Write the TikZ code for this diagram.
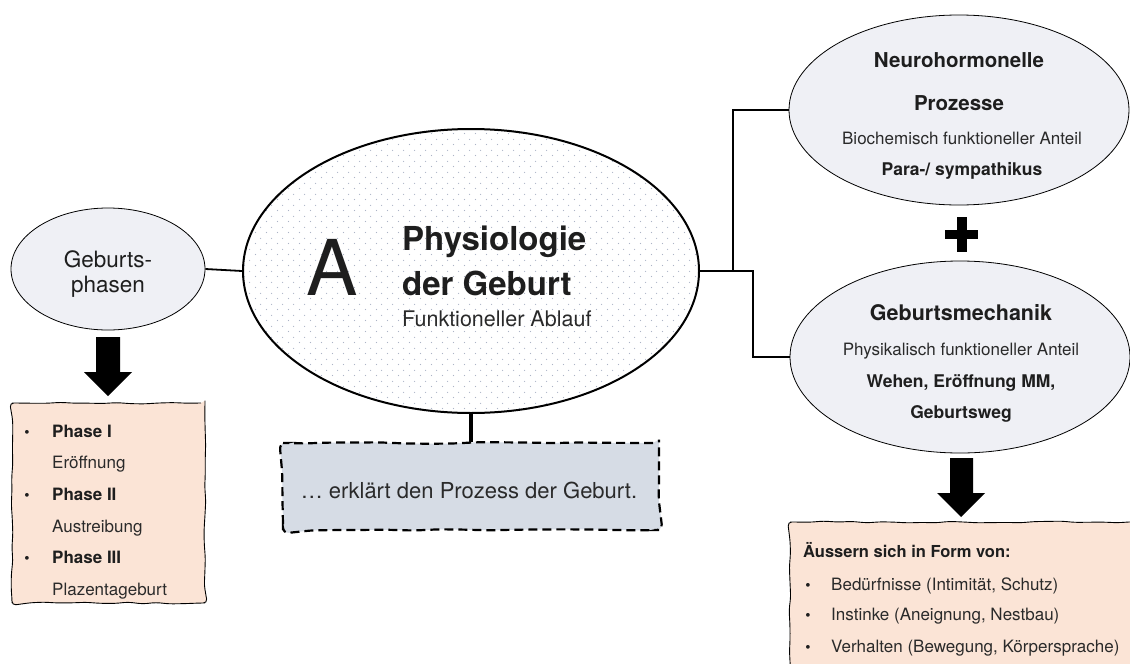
\documentclass[tikz,border=0pt]{standalone}
\usepackage{fontspec}
\setmainfont{TeX Gyre Heros}
\usetikzlibrary{shapes.geometric,patterns.meta,decorations.pathmorphing}
\definecolor{ellfill}{HTML}{EFF0F5}
\definecolor{peach}{HTML}{FBE4D6}
\definecolor{boxblue}{HTML}{D6DCE5}
\definecolor{dotc}{HTML}{ACB4C6}
\definecolor{txt}{HTML}{1E1E1E}
\definecolor{txtl}{HTML}{2A2A2A}
\tikzdeclarepattern{name=stagdots, type=uncolored,
  bounding box={(0pt,0pt) and (11pt,11pt)}, tile size={(11pt,11pt)},
  code={\fill (2.75pt,2.75pt) circle[radius=0.7pt]; \fill (8.25pt,8.25pt) circle[radius=0.7pt];}}
\begin{document}
\begin{tikzpicture}[x=1pt,y=-1pt,
  ell/.style={ellipse, draw, fill=ellfill, line width=0.8pt, inner sep=0pt},
  conn/.style={line width=1.8pt},
  lbl/.style={anchor=base, inner sep=0pt, text=txt},
  lbll/.style={anchor=base west, inner sep=0pt, text=txt},
  blockarrow/.style={fill=black},
  wavybox/.style={draw, line width=0.9pt, fill=peach, inner sep=0pt,
    decorate, decoration={random steps, segment length=14pt, amplitude=0.9pt}, rounded corners=4pt},
  dashbox/.style={draw, line width=2.2pt, dash pattern=on 9pt off 5pt, fill=boxblue, inner sep=0pt,
    decorate, decoration={random steps, segment length=25pt, amplitude=0.8pt}, rounded corners=6pt}
]
\pgfmathsetseed{7}
\useasboundingbox (0,0) rectangle (1130,664);

% main ellipse
\node[ellipse, draw, line width=2pt, inner sep=0pt, minimum width=456pt, minimum height=284pt,
  preaction={fill=white}, pattern={stagdots}, pattern color=dotc] (main) at (471,271) {};
\node[lbl, font=\fontsize{77}{77}\selectfont] (A) at (332,295) {A};
\node[lbll, font=\bfseries\fontsize{33}{33}\selectfont] (t1) at (402,250) {Physiologie};
\node[lbll, font=\bfseries\fontsize{33}{33}\selectfont] (t2) at (402,295) {der Geburt};
\node[lbll, font=\fontsize{21.5}{21.5}\selectfont, text=txtl] (t3) at (402,326) {Funktioneller Ablauf};

% Geburtsphasen
\node[ell, minimum width=194pt, minimum height=122pt] (phasen) at (108,269) {};
\node[lbl, font=\fontsize{22.5}{22.5}\selectfont] (p1) at (108,267) {Geburts-};
\node[lbl, font=\fontsize{22.5}{22.5}\selectfont] (p2) at (108,292) {phasen};
\draw[conn] (phasen.east) -- (main.west);

% left block arrow
\fill[blockarrow] (96,337) -- (120,337) -- (120,372) -- (132,372) -- (108,396) -- (84,372) -- (96,372) -- cycle;

% left list box
\node[wavybox, minimum width=193pt, minimum height=200pt] (phbox) at (108.5,503) {};
\foreach \yy/\lab/\bb in {437/Phase I/1, 468/Eröffnung/0, 500/Phase II/1, 532/Austreibung/0, 563/Phase III/1, 595/Plazentageburt/0}{
  \ifnum\bb=1
    \node[lbll, font=\bfseries\fontsize{17}{17}\selectfont] at (52,\yy) {\lab};
    \node[lbl, font=\fontsize{15}{15}\selectfont] at (27,\yy) {\textbullet};
  \else
    \node[lbll, font=\fontsize{17}{17}\selectfont, text=txtl] at (52,\yy) {\lab};
  \fi
}

% dashed box
\node[dashbox, minimum width=376pt, minimum height=87pt] (erkl) at (471,486.5) {};
\node[lbl, font=\fontsize{22}{22}\selectfont, text=txtl] (et) at (469,498) {\dots\ erklärt den Prozess der Geburt.};
\draw[line width=4pt] (main.south) -- (erkl.north);

% Neurohormonelle
\node[ell, minimum width=340pt, minimum height=190pt] (neuro) at (959,110) {};
\node[lbl, font=\bfseries\fontsize{20.5}{20.5}\selectfont] at (959,67) {Neurohormonelle};
\node[lbl, font=\bfseries\fontsize{20.5}{20.5}\selectfont] at (959,110) {Prozesse};
\node[lbl, font=\fontsize{17}{17}\selectfont, text=txtl] at (962,144) {Biochemisch funktioneller Anteil};
\node[lbl, font=\bfseries\fontsize{17.5}{17.5}\selectfont] at (962,175) {Para-/ sympathikus};

% plus
\fill (957,217) rectangle (967,252);
\fill (945,230) rectangle (978,239);

% Geburtsmechanik
\node[ell, minimum width=340pt, minimum height=192pt] (mech) at (960,357) {};
\node[lbl, font=\bfseries\fontsize{21.5}{21.5}\selectfont] at (961,320) {Geburtsmechanik};
\node[lbl, font=\fontsize{17}{17}\selectfont, text=txtl] at (961,355) {Physikalisch funktioneller Anteil};
\node[lbl, font=\bfseries\fontsize{17.5}{17.5}\selectfont] at (961,387) {Wehen, Eröffnung MM,};
\node[lbl, font=\bfseries\fontsize{17.5}{17.5}\selectfont] at (961,418) {Geburtsweg};

% connectors right
\coordinate (j1) at (733,271);
\coordinate (j2) at (753,271);
\draw[conn] (main.east) -- (j2) |- (mech.west);
\draw[conn] (j1) |- (neuro.west);

% right block arrow
\fill[blockarrow] (950,458) -- (973,458) -- (973,493) -- (985,493) -- (961,517) -- (937,493) -- (950,493) -- cycle;

% right list box
\node[wavybox, minimum width=360pt, minimum height=170pt] (abox) at (970,607) {};
\node[lbll, font=\bfseries\fontsize{16.5}{16.5}\selectfont] at (803,557) {Äussern sich in Form von:};
\foreach \yy/\lab in {590/{Bedürfnisse (Intimität, Schutz)}, 620/{Instinke (Aneignung, Nestbau)}, 652/{Verhalten (Bewegung, Körpersprache)}}{
  \node[lbl, font=\fontsize{15}{15}\selectfont] at (808,\yy) {\textbullet};
  \node[lbll, font=\fontsize{17}{17}\selectfont, text=txtl] at (831,\yy) {\lab};
}
\end{tikzpicture}
\end{document}
